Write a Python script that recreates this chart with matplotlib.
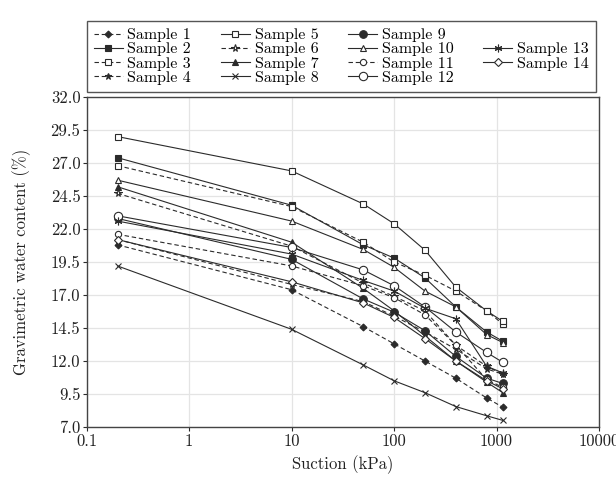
import numpy as np
import matplotlib
matplotlib.use("Agg")
import matplotlib.pyplot as plt
from matplotlib.lines import Line2D

plt.rcParams['font.family'] = ['cmr10', 'DejaVu Serif']
plt.rcParams['axes.formatter.use_mathtext'] = True

# suction steps (kPa)
suction = [0.2, 10, 50, 100, 200, 400, 800, 1150]

# gravimetric water content (%) per sample
s1 = [20.8, 17.4, 14.6, 13.3, 12.0, 10.7, 9.2, 8.5]
s2 = [27.4, 23.8, 20.8, 19.8, 18.3, 16.1, 14.2, 13.5]
s3 = [26.8, 23.7, 21.0, 19.5, 18.5, 17.3, 15.8, 14.8]
s4 = [21.2, 17.8, 16.5, 15.4, 14.2, 12.9, 11.4, 11.0]
s5 = [29.0, 26.4, 23.9, 22.4, 20.4, 17.6, 15.8, 15.0]
s6 = [24.7, 20.7, 17.9, 16.9, 15.8, 13.2, 11.6, 11.0]
s7 = [25.2, 21.0, 17.5, 15.8, 13.9, 12.0, 10.4, 9.6]
s8 = [19.2, 14.4, 11.7, 10.5, 9.6, 8.55, 7.85, 7.5]
s9 = [22.8, 19.7, 16.7, 15.7, 14.3, 12.35, 10.7, 10.3]
s10 = [25.7, 22.6, 20.45, 19.1, 17.3, 16.1, 14.0, 13.4]
s11 = [21.6, 19.2, 17.7, 16.8, 15.5, 13.2, 10.6, 10.0]
s12 = [23.0, 20.6, 18.9, 17.7, 16.1, 14.2, 12.65, 11.9]
s13 = [22.6, 20.1, 18.1, 17.3, 16.0, 15.2, 11.6, 11.1]
s14 = [21.2, 18.0, 16.4, 15.3, 13.7, 12.0, 10.5, 9.9]

samples = [s1, s2, s3, s4, s5, s6, s7, s8, s9, s10, s11, s12, s13, s14]
labels = ['Sample %d' % (i + 1) for i in range(14)]

y_ticks = [7.0, 9.5, 12.0, 14.5, 17.0, 19.5, 22.0, 24.5, 27.0, 29.5, 32.0]
x_ticks = [0.1, 1, 10, 100, 1000, 10000]
x_ticklabels = ['0.1', '1', '10', '100', '1000', '10000']

# (linestyle, marker, filled, markersize)
styles = [
    ('--', 'D', True, 3.5),
    ('-', 's', True, 4),
    ('--', 's', False, 4),
    ('--', '*', True, 5),
    ('-', 's', False, 4.5),
    ('--', '*', False, 5.5),
    ('-', '^', True, 4.5),
    ('-', 'x', False, 4.5),
    ('-', 'o', True, 5.5),
    ('-', '^', False, 4.5),
    ('--', 'o', False, 4.5),
    ('-', 'o', False, 6),
    ('-', (6, 2, 0), False, 5.5),
    ('-', 'D', False, 4),
]

ink = '#2b2b2b'

fig = plt.figure(figsize=(6.16, 4.79), dpi=100)
ax = fig.add_axes([0.1407, 0.1086, 0.8317, 0.6889])

handles = []
for vals, lab, (ls, mk, filled, ms) in zip(samples, labels, styles):
    h, = ax.plot(suction, vals, linestyle=ls, marker=mk, color=ink,
                 markersize=ms, linewidth=0.8, markeredgewidth=0.8,
                 markerfacecolor=ink if filled else 'white',
                 markeredgecolor=ink, dashes=(4, 2.5) if ls == '--' else (None, None),
                 label=lab)
    handles.append(h)

ax.set_xscale('log')
ax.set_xlim(0.1, 10000)
ax.set_ylim(7.0, 32.0)
ax.set_xticks(x_ticks)
ax.set_xticklabels(x_ticklabels)
ax.set_yticks(y_ticks)
ax.set_yticklabels(['%.1f' % v for v in y_ticks])
ax.minorticks_off()
ax.tick_params(direction='out', length=3, width=0.8, pad=1.5, colors=ink,
               labelsize=12, labelcolor='#222222')
ax.grid(True, color='#e4e4e4', linewidth=0.9)
ax.set_axisbelow(True)
for sp in ax.spines.values():
    sp.set_color('#444444')
    sp.set_linewidth(1.0)

ax.set_xlabel('Suction (kPa)', fontsize=12, labelpad=5, color='#222222')
ax.set_ylabel('Gravimetric water content (%)', fontsize=12, labelpad=14, color='#222222')

# legend: column 4 holds samples 13 and 14 in the middle rows
blank = Line2D([], [], linestyle='none', marker=None)
leg_handles = handles[0:12] + [blank, handles[12], handles[13], blank]
leg_labels = labels[0:12] + ['', labels[12], labels[13], '']
leg = ax.legend(leg_handles, leg_labels, ncol=4, loc='lower left',
                bbox_to_anchor=(0.0, 1.015, 0.994, 0.2), mode='expand',
                borderaxespad=0, fontsize=11.5, frameon=True, fancybox=False,
                edgecolor='#555555', framealpha=1, handlelength=1.8,
                handletextpad=0.3, columnspacing=1.2, labelspacing=0.0,
                borderpad=0.45)
leg.get_frame().set_linewidth(1.0)

fig.savefig('out.png', dpi=100)
